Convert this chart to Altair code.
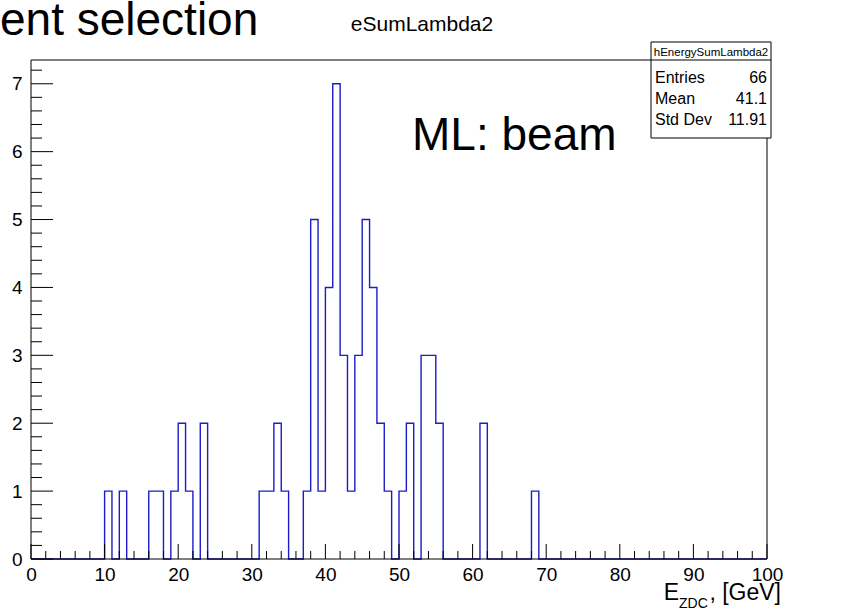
import altair as alt
import pandas as pd

# Non-empty bins of hEnergySumLambda2 (1 GeV bins from 0 to 100 GeV)
bin_low = [10, 12, 16, 17, 19, 20, 21, 23, 31, 32, 33, 34, 37, 38, 39, 40, 41, 42,
           43, 44, 45, 46, 47, 48, 50, 51, 53, 54, 55, 61, 68]
bin_count = [1, 1, 1, 1, 1, 2, 1, 2, 1, 1, 2, 1, 1, 5, 1, 4, 7, 3,
             1, 3, 5, 4, 2, 1, 1, 2, 3, 3, 2, 2, 1]

stat_names = ["Entries", "Mean", "Std Dev"]
stat_values = ["66", "41.1", "11.91"]

hist_name = "hEnergySumLambda2"
hist_title = "eSumLambda2"
x_ticks = [0, 10, 20, 30, 40, 50, 60, 70, 80, 90, 100]
y_ticks = [0, 1, 2, 3, 4, 5, 6, 7]

X_MAX = 100
Y_MAX = 7.35
W, H = 736, 499
FONT = "Liberation Sans"
LINE = "#1c1cc8"

# full 100-bin contents, drawn as a step outline
counts = [0] * X_MAX
for lo, c in zip(bin_low, bin_count):
    counts[lo] = c
edges = list(range(X_MAX + 1))
hist_df = pd.DataFrame({"E": edges, "n": counts + [counts[-1]]})

xs = alt.Scale(domain=[0, X_MAX], nice=False, zero=False)
ys = alt.Scale(domain=[0, Y_MAX], nice=False)

x_axis = alt.Axis(
    values=x_ticks, ticks=False, domain=False, grid=False, title=None,
    labelFont=FONT, labelFontSize=19, labelColor="black",
    labelPadding=6, labelFlush=False, labelOverlap=False)
y_axis = alt.Axis(
    values=y_ticks, ticks=False, domain=False, grid=False, title=None,
    labelFont=FONT, labelFontSize=19, labelColor="black",
    labelPadding=9, labelOverlap=False)

hist = alt.Chart(hist_df).mark_line(
    interpolate="step-after", color=LINE, strokeWidth=1.4
).encode(
    x=alt.X("E:Q", scale=xs, axis=x_axis),
    y=alt.Y("n:Q", scale=ys, axis=y_axis),
)

one = alt.Data(values=[{"k": 0}])

frame = alt.Chart(one).mark_rect(
    fillOpacity=0, stroke="black", strokeWidth=1
).encode(x=alt.value(0), x2=alt.value(W), y=alt.value(0), y2=alt.value(H))

# inward ROOT-style ticks
xmaj = pd.DataFrame({"E": [v for v in range(0, X_MAX + 1, 10)]})
xmin = pd.DataFrame({"E": [v for v in range(0, X_MAX + 1, 2) if v % 10]})
ymaj = pd.DataFrame({"n": [v for v in range(0, 8)]})
ymin = pd.DataFrame({"n": [v / 5 for v in range(0, 37) if v % 5]})

tick_x_major = alt.Chart(xmaj).mark_rule(color="black", strokeWidth=1).encode(
    x=alt.X("E:Q", scale=xs, axis=x_axis), y=alt.value(H), y2=alt.value(H - 15))
tick_x_minor = alt.Chart(xmin).mark_rule(color="black", strokeWidth=1).encode(
    x=alt.X("E:Q", scale=xs, axis=x_axis), y=alt.value(H), y2=alt.value(H - 8))
tick_y_major = alt.Chart(ymaj).mark_rule(color="black", strokeWidth=1).encode(
    y=alt.Y("n:Q", scale=ys, axis=y_axis), x=alt.value(0), x2=alt.value(22))
tick_y_minor = alt.Chart(ymin).mark_rule(color="black", strokeWidth=1).encode(
    y=alt.Y("n:Q", scale=ys, axis=y_axis), x=alt.value(0), x2=alt.value(11))

# statistics box
BX0, BX1, BY0, BY1 = 620, 740, -18, 78
stat_box = alt.Chart(one).mark_rect(
    fill="white", stroke="black", strokeWidth=1
).encode(x=alt.value(BX0), x2=alt.value(BX1), y=alt.value(BY0), y2=alt.value(BY1))
stat_sep = alt.Chart(one).mark_rule(color="black", strokeWidth=1).encode(
    x=alt.value(BX0), x2=alt.value(BX1), y=alt.value(0))
stat_head = alt.Chart(one).mark_text(
    font=FONT, fontSize=11.5, align="center", baseline="alphabetic", color="black"
).encode(x=alt.value((BX0 + BX1) / 2), y=alt.value(-4), text=alt.value(hist_name))

stat_layers = []
for i, (nm, vl) in enumerate(zip(stat_names, stat_values)):
    yb = 23 + 21 * i
    stat_layers.append(alt.Chart(one).mark_text(
        font=FONT, fontSize=16, align="left", baseline="alphabetic", color="black"
    ).encode(x=alt.value(BX0 + 4), y=alt.value(yb), text=alt.value(nm)))
    stat_layers.append(alt.Chart(one).mark_text(
        font=FONT, fontSize=16, align="right", baseline="alphabetic", color="black"
    ).encode(x=alt.value(BX1 - 4), y=alt.value(yb), text=alt.value(vl)))

def label(txt, x, y, size, align="left"):
    return alt.Chart(one).mark_text(
        font=FONT, fontSize=size, align=align, baseline="alphabetic", color="black"
    ).encode(x=alt.value(x), y=alt.value(y), text=alt.value(txt))

title = label(hist_title, 391, -29, 21, "center")
beam = label("ML: beam", 381, 90, 46)
slide = label("ent selection", -31, -25, 46)
# axis title E_ZDC, [GeV] built from a main part and a subscript
xt_e = label("E", 648, H + 41, 23, "right")
xt_sub = label("ZDC", 648, H + 49, 14)
xt_unit = label(", [GeV]", 750, H + 41, 23, "right")

chart = alt.layer(
    hist, frame, tick_x_major, tick_x_minor, tick_y_major, tick_y_minor,
    stat_box, stat_sep, stat_head, *stat_layers,
    title, beam, slide, xt_e, xt_sub, xt_unit,
).properties(
    width=W, height=H,
    autosize=alt.AutoSizeParams(type="none"),
    padding={"left": 31, "top": 60, "right": 80, "bottom": 52},
    background="white",
).configure_view(strokeWidth=0)

chart.save("out.html", embed_options={"renderer": "svg", "actions": False})
